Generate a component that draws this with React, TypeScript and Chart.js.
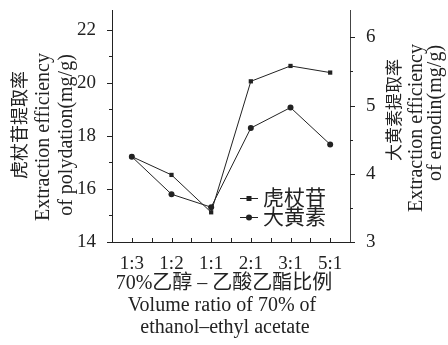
import React, { useEffect, useRef } from "react";
import { Chart, registerables } from "chart.js";

Chart.register(...registerables);

const categories = ["1:3", "1:2", "1:1", "2:1", "3:1", "5:1"];
const polydatin = [17.22, 16.53, 15.12, 20.06, 20.64, 20.39];
const emodin = [4.25, 3.7, 3.51, 4.67, 4.97, 4.43];
const leftTicks = [14, 16, 18, 20, 22];
const rightTicks = [3, 4, 5, 6];
const seriesNames = ["虎杖苷", "大黄素"];

const SERIF = '"Liberation Serif", "Noto Sans CJK SC", serif';
const INK = "#222";

function vtext(ctx: CanvasRenderingContext2D, text: string, x: number, y: number, font: string) {
  ctx.save();
  ctx.translate(x, y);
  ctx.rotate(-Math.PI / 2);
  ctx.font = font;
  ctx.fillStyle = INK;
  ctx.textAlign = "center";
  ctx.textBaseline = "middle";
  ctx.fillText(text, 0, 0);
  ctx.restore();
}

const decorPlugin = {
  id: "decor",
  afterDraw(chart: any) {
    const ctx: CanvasRenderingContext2D = chart.ctx;
    const { left, right, top, bottom } = chart.chartArea;
    const ys = chart.scales.y;
    const y1 = chart.scales.y1;
    ctx.save();
    ctx.strokeStyle = INK;
    ctx.lineWidth = 1;
    ctx.beginPath();
    for (let v = 14; v <= 22; v += 1) {
      const py = Math.round(ys.getPixelForValue(v)) + 0.5;
      const len = v % 2 === 0 ? 5 : 3;
      ctx.moveTo(left - len, py);
      ctx.lineTo(left, py);
    }
    for (let v = 3; v <= 6; v += 0.5) {
      const py = Math.round(y1.getPixelForValue(v)) + 0.5;
      const len = Number.isInteger(v) ? 5 : 3;
      ctx.moveTo(right, py);
      ctx.lineTo(right + len, py);
    }
    const n = categories.length * 2;
    for (let i = 1; i < n; i++) {
      const px = Math.round(left + (i * (right - left)) / n) + 0.5;
      ctx.moveTo(px, bottom);
      ctx.lineTo(px, bottom - 4);
    }
    ctx.stroke();

    // legend
    const lx = 240, lw = 18;
    const rows = [198, 217];
    ctx.font = `21px ${SERIF}`;
    ctx.fillStyle = INK;
    ctx.textBaseline = "middle";
    ctx.textAlign = "left";
    rows.forEach((ry, i) => {
      ctx.beginPath();
      ctx.moveTo(lx, ry + 0.5);
      ctx.lineTo(lx + lw, ry + 0.5);
      ctx.stroke();
      ctx.beginPath();
      if (i === 0) {
        ctx.rect(lx + lw / 2 - 2.5, ry - 2, 5, 5);
      } else {
        ctx.arc(lx + lw / 2, ry + 0.5, 3, 0, Math.PI * 2);
      }
      ctx.fill();
      ctx.fillText(seriesNames[i], lx + lw + 5, ry + 1);
    });

    // axis titles
    vtext(ctx, "虎杖苷提取率", 21, 125, `18px ${SERIF}`);
    vtext(ctx, "Extraction efficiency", 44, 137, `20px ${SERIF}`);
    vtext(ctx, "of polydation(mg/g)", 67, 135, `20px ${SERIF}`);
    vtext(ctx, "大黄素提取率", 396, 110, `17px ${SERIF}`);
    vtext(ctx, "Extraction efficiency", 417, 128, `20px ${SERIF}`);
    vtext(ctx, "of emodin(mg/g)", 436, 113, `20px ${SERIF}`);

    ctx.textAlign = "center";
    ctx.textBaseline = "middle";
    ctx.font = `20px ${SERIF}`;
    ctx.fillText("70%乙醇 – 乙酸乙酯比例", 224, 284);
    ctx.font = `20px ${SERIF}`;
    ctx.fillText("Volume ratio of 70% of", 222, 306);
    ctx.fillText("ethanol–ethyl acetate", 225, 328);
    ctx.restore();
  },
};

export default function App() {
  const ref = useRef<HTMLCanvasElement>(null);
  useEffect(() => {
    document.body.style.margin = "0";
    const canvas = ref.current!;
    const tickFont = { family: SERIF, size: 19 };
    const chart = new Chart(canvas, {
      type: "line",
      data: {
        labels: categories,
        datasets: [
          {
            label: seriesNames[0],
            data: polydatin,
            yAxisID: "y",
            borderColor: INK,
            backgroundColor: INK,
            borderWidth: 1,
            pointStyle: "rect",
            pointRadius: 3,
            pointBackgroundColor: INK,
            pointBorderWidth: 0,
          },
          {
            label: seriesNames[1],
            data: emodin,
            yAxisID: "y1",
            borderColor: INK,
            backgroundColor: INK,
            borderWidth: 1,
            pointStyle: "circle",
            pointRadius: 3,
            pointBackgroundColor: INK,
            pointBorderWidth: 0,
          },
        ],
      },
      options: {
        animation: false,
        responsive: false,
        layout: { padding: { top: 10, left: 0, right: 0, bottom: 0 } },
        plugins: { legend: { display: false }, tooltip: { enabled: false } },
        scales: {
          x: {
            type: "category",
            offset: true,
            grid: { display: false },
            border: { display: true, color: INK, width: 1 },
            ticks: { font: tickFont, color: INK, padding: 3, maxRotation: 0, autoSkip: false },
            afterFit: (s: any) => { s.height = 103; s.paddingLeft = 0; s.paddingRight = 0; },
          },
          y: {
            type: "linear",
            position: "left",
            min: 14,
            max: 22.75,
            grid: { display: false },
            border: { display: true, color: INK, width: 1 },
            afterBuildTicks: (s: any) => { s.ticks = leftTicks.map((v) => ({ value: v })); },
            ticks: { font: tickFont, color: INK, padding: 8 },
            afterFit: (s: any) => { s.width = 112; s.paddingTop = 0; s.paddingBottom = 0; },
          },
          y1: {
            type: "linear",
            position: "right",
            min: 3,
            max: 6.4,
            grid: { display: false },
            border: { display: true, color: "#444", width: 1 },
            afterBuildTicks: (s: any) => { s.ticks = rightTicks.map((v) => ({ value: v })); },
            ticks: { font: tickFont, color: INK, padding: 8 },
            afterFit: (s: any) => { s.width = 98; s.paddingTop = 0; s.paddingBottom = 0; },
          },
        },
      },
      plugins: [decorPlugin],
    });
    return () => chart.destroy();
  }, []);
  return <canvas ref={ref} width={448} height={345} style={{ display: "block" }} />;
}
